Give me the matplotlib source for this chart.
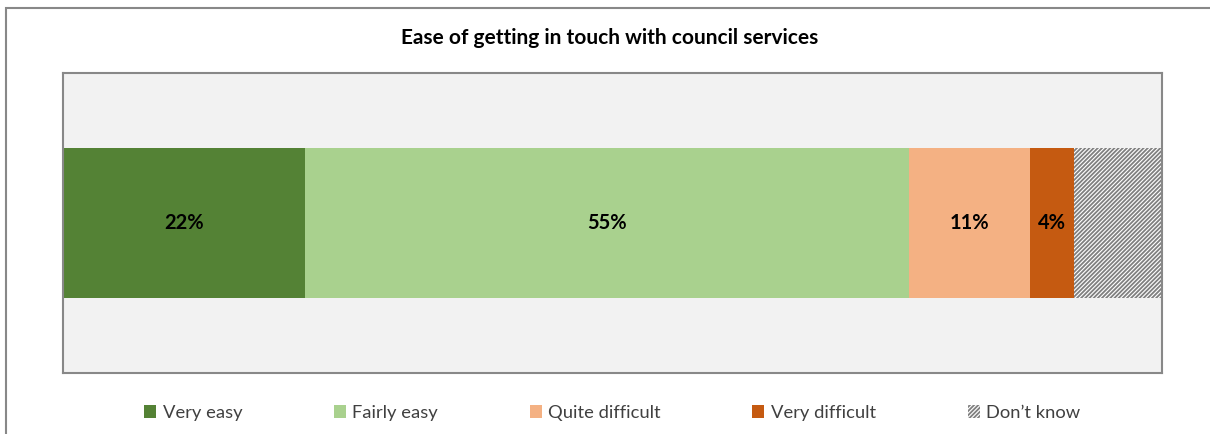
import matplotlib.pyplot as plt
from matplotlib.patches import Rectangle, Patch

categories = ["Very easy", "Fairly easy", "Quite difficult", "Very difficult", "Don\u2019t know"]
values = [22, 55, 11, 4, 8]
labels = ["22%", "55%", "11%", "4%", ""]
colors = ["#548235", "#a9d18e", "#f4b183", "#c55a11", "white"]
hatches = [None, None, None, None, "////////"]

plt.rcParams["font.family"] = ["Lato", "DejaVu Sans"]
plt.rcParams["hatch.linewidth"] = 1.3

fig = plt.figure(figsize=(12.1, 4.34), dpi=100)
ax = fig.add_axes([63 / 1210, 1 - 373 / 434, 1099 / 1210, 300 / 434])
ax.set_facecolor("#f2f2f2")

left = 0
for cat, v, lab, c, h in zip(categories, values, labels, colors, hatches):
    if h:
        ax.barh(0, v, left=left, height=0.5, color=c, hatch=h,
                edgecolor="#808080", linewidth=0, label=cat)
    else:
        ax.barh(0, v, left=left, height=0.5, color=c, linewidth=0, label=cat)
    if lab:
        ax.text(left + v / 2, 0, lab, ha="center", va="center",
                fontsize=14.5, fontweight="bold", color="black")
    left += v

ax.set_xlim(0, 100)
ax.set_ylim(-0.5, 0.5)
ax.set_xticks([])
ax.set_yticks([])
for s in ax.spines.values():
    s.set_color("#888888")
    s.set_linewidth(1.5)

fig.text(0.504, 1 - 38 / 434, "Ease of getting in touch with council services",
         ha="center", va="center", fontsize=15, fontweight="bold")

# outer chart frame
fig.patches.append(Rectangle((6 / 1210, -0.05), 1.2, 1 - 8 / 434 + 0.05,
                             transform=fig.transFigure, fill=False,
                             edgecolor="#888888", linewidth=1.5))

handles = []
for cat, c, h in zip(categories, colors, hatches):
    if h:
        handles.append(Patch(facecolor=c, hatch=h, edgecolor="#808080", linewidth=0, label=cat))
    else:
        handles.append(Patch(facecolor=c, linewidth=0, label=cat))
fig.legend(handles=handles, loc="center", bbox_to_anchor=(0.506, 1 - 413 / 434),
           ncol=5, frameon=False, fontsize=13.2, handlelength=0.65, handleheight=0.65,
           handletextpad=0.35, columnspacing=5.0, labelcolor="#404040")

fig.savefig("out.png", dpi=100)
